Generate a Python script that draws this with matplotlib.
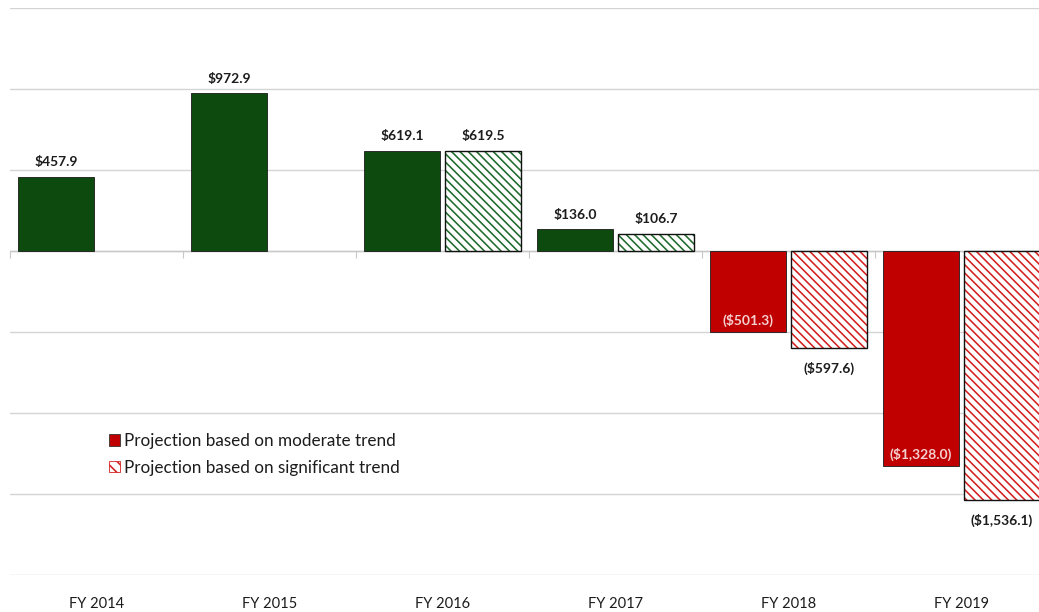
import numpy as np
import matplotlib
matplotlib.use('Agg')
import matplotlib.pyplot as plt
from matplotlib.patches import Patch

plt.rcParams['font.family'] = ['Lato', 'DejaVu Sans']
plt.rcParams['hatch.linewidth'] = 1.15

# fiscal years and the two projections (millions); 2014-2015 are actuals
years = ['FY 2014', 'FY 2015', 'FY 2016', 'FY 2017', 'FY 2018', 'FY 2019']
moderate = [457.9, 972.9, 619.1, 136.0, -501.3, -1328.0]
significant = [np.nan, np.nan, 619.5, 106.7, -597.6, -1536.1]

green = '#0d4a0d'
red = '#c00000'
hatch_green = '#1f6b2c'
hatch_red = '#d42020'
grid_col = '#d4d4d4'
text_col = '#1c1c1c'
hatch = '\\' * 4

def money(v):
    s = '${:,.1f}'.format(abs(v))
    return s if v >= 0 else '(' + s + ')'

fig = plt.figure(figsize=(10.39, 6.12), dpi=100)
ax = fig.add_axes([10 / 1039, 1 - 575 / 612, 1038 / 1039, 567 / 612])

x = np.arange(len(years))
w = 0.44
off = 0.2345
lbl = dict(ha='center', fontsize=10, fontweight='bold', textcoords='offset points')

for i, (m, s) in enumerate(zip(moderate, significant)):
    c = green if m >= 0 else red
    ax.bar(x[i] - off, m, w, color=c, edgecolor='#1a1a1a', linewidth=0.6, zorder=3)
    if m >= 0:
        ax.annotate(money(m), (x[i] - off, m), xytext=(0, 6), va='bottom', color=text_col, **lbl)
    else:
        ax.annotate(money(m), (x[i] - off, m), xytext=(0, 4), va='bottom', color='#f4d0d0', **lbl)
    if np.isnan(s):
        continue
    c = hatch_green if s >= 0 else hatch_red
    # hatch drawn in series colour, outline in black on top
    ax.bar(x[i] + off, s, w, color='white', edgecolor=c, hatch=hatch, linewidth=0, zorder=3)
    ax.bar(x[i] + off, s, w, fill=False, edgecolor='#111111', linewidth=1.0, zorder=4)
    if s >= 0:
        ax.annotate(money(s), (x[i] + off, s), xytext=(0, 6), va='bottom', color=text_col, **lbl)
    else:
        ax.annotate(money(s), (x[i] + off, s), xytext=(0, -10), va='top', color=text_col, **lbl)

ax.set_xlim(-0.5, len(years) - 0.5)
ax.set_ylim(-2000, 1500)
ax.set_yticks(np.arange(-2000, 1501, 500))
ax.yaxis.grid(True, color=grid_col, linewidth=1.0, zorder=0)
ax.axhline(0, color='#c8c8c8', linewidth=1.0, zorder=2)
ax.tick_params(axis='y', left=False, labelleft=False)
for sp in ax.spines.values():
    sp.set_visible(False)

ax.set_xticks(x)
ax.set_xticklabels(years, fontsize=10.5, color=text_col)
ax.tick_params(axis='x', length=0, pad=16)

# small category separators hanging from the zero line
sec = ax.secondary_xaxis(2000 / 3500)
sec.set_xticks(np.arange(len(years)) - 0.5)
sec.tick_params(axis='x', direction='out', length=5, color='#c8c8c8', labelbottom=False,
                labeltop=False, top=False, bottom=True)
sec.spines['bottom'].set_visible(False)
sec.spines['top'].set_visible(False)

handles = [Patch(facecolor=red, edgecolor='#333333', linewidth=0.6),
           Patch(facecolor='white', edgecolor=hatch_red, hatch='\\\\\\', linewidth=0.6)]
leg = ax.legend(handles, ['Projection based on moderate trend', 'Projection based on significant trend'],
                loc='upper left', bbox_to_anchor=(109 / 1039, 1 - 433 / 612),
                bbox_transform=fig.transFigure, frameon=False, fontsize=12.3,
                handlelength=0.65, handleheight=0.65, handletextpad=0.25, labelspacing=0.62,
                borderpad=0, borderaxespad=0)
for t in leg.get_texts():
    t.set_color(text_col)
for h in leg.legend_handles[1:]:
    h.set_edgecolor(hatch_red)

fig.savefig('out.png', dpi=100, facecolor='white')
